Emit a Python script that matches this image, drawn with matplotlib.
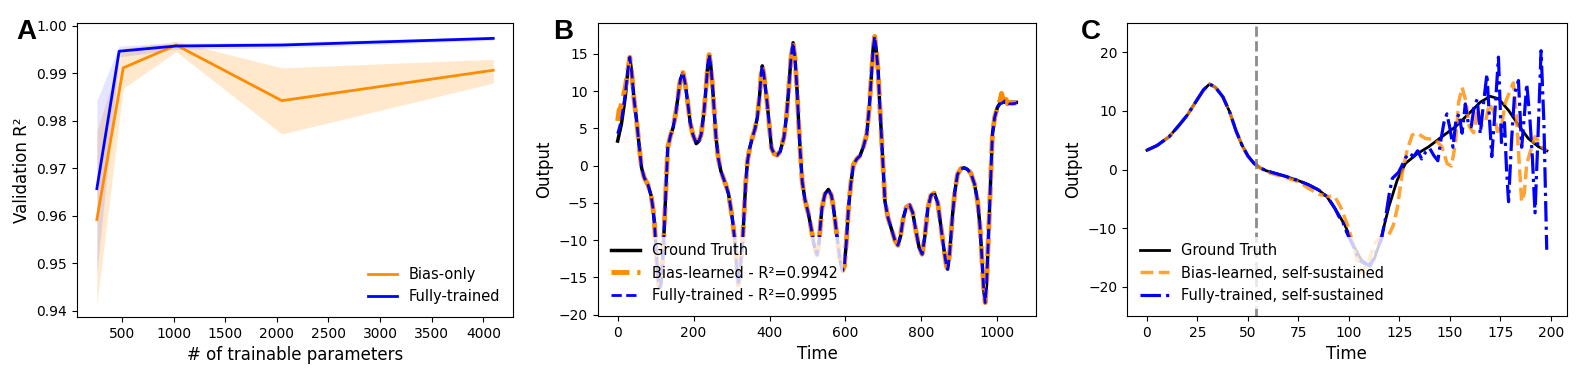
import matplotlib
matplotlib.use("Agg")
import matplotlib.pyplot as plt
import numpy as np

# ---- panel A : validation R2 vs number of trainable parameters
bias_params = [256, 512, 1024, 2048, 4096]
bias_r2 = [0.9592, 0.9911, 0.9959, 0.9842, 0.9906]
bias_lo = [0.9415, 0.9868, 0.9945, 0.9772, 0.9879]
bias_hi = [0.9778, 0.9952, 0.9967, 0.9911, 0.9929]

full_params = [256, 472, 1024, 2048, 4096]
full_r2 = [0.9657, 0.9946, 0.9957, 0.9959, 0.9973]
full_lo = [0.9480, 0.9934, 0.9950, 0.9953, 0.9969]
full_hi = [0.9842, 0.9957, 0.9963, 0.9965, 0.9977]

# ---- panel B : teacher-forced output
gt_t = [0, 10, 20, 27, 32, 37, 43, 50, 57, 63, 70, 80, 88, 93, 97, 100, 104, 108, 111, 114,
        118, 121, 125, 129, 132, 139, 146, 153, 159, 165, 172, 178, 185, 191, 198, 207, 214, 220,
        227, 233, 237, 241, 245, 250, 255, 259, 265, 272, 278, 285, 292, 298, 303, 309, 313, 318,
        322, 325, 329, 333, 337, 342, 348, 355, 362, 368, 374, 378, 381, 385, 389, 394, 400, 405,
        412, 420, 428, 438, 445, 451, 456, 462, 467, 472, 477, 481, 486, 493, 503, 510, 517, 525,
        530, 534, 538, 546, 555, 563, 568, 573, 580, 586, 592, 597, 602, 608, 614, 621, 630, 638,
        647, 656, 663, 669, 673, 677, 681, 686, 690, 695, 700, 704, 712, 721, 730, 738, 745, 752,
        760, 769, 777, 786, 794, 802, 809, 817, 825, 834, 843, 852, 860, 866, 869, 874, 882, 888,
        895, 904, 913, 921, 930, 940, 948, 954, 959, 964, 968, 972, 978, 983, 987, 993, 1000, 1007,
        1013, 1020, 1031, 1040, 1050]
gt_y = [3.3, 5.6, 9.2, 12.8, 14.55, 12.5, 9.0, 6.0, 2.5, -0.3, -1.6, -2.6, -4.0, -5.7, -7.8, -10.3,
        -13.5, -15.8, -16.4, -15.8, -13.2, -10.3, -5.5, -1.0, 2.4, 4.0, 5.1, 7.0, 9.2, 11.5, 12.5,
        11.0, 8.3, 5.8, 4.2, 2.95, 3.3, 4.2, 7.0, 10.6, 13.3, 14.9, 13.6, 10.6, 6.8, 3.8, 1.0, -0.75,
        -1.6, -2.6, -3.8, -5.7, -7.5, -10.3, -13.2, -16.0, -14.5, -12.5, -10.3, -6.5, -2.5, 0.6, 2.4,
        3.8, 5.0, 6.5, 9.5, 12.3, 13.4, 12.3, 10.5, 8.3, 5.0, 2.4, 1.6, 1.4, 1.9, 3.8, 6.8, 10.6,
        14.2, 16.5, 14.5, 10.6, 5.5, 1.8, -2.1, -4.5, -6.6, -8.5, -10.6, -12.0, -10.5, -8.0, -5.7,
        -3.8, -3.2, -4.0, -5.5, -7.5, -10.5, -12.8, -14.1, -13.5, -10.5, -5.7, -2.5, 0.15, 0.9, 1.3,
        2.5, 4.2, 8.0, 12.8, 15.8, 17.35, 15.5, 12.8, 8.5, 3.8, -0.8, -4.8, -7.0, -8.5, -10.0, -10.7,
        -9.5, -7.1, -5.6, -5.3, -6.3, -8.9, -11.0, -11.9, -9.5, -5.7, -4.0, -3.7, -5.0, -8.5, -11.5,
        -13.5, -13.9, -12.0, -6.6, -3.5, -1.2, -0.4, -0.3, -0.5, -1.0, -2.5, -4.8, -8.0, -12.1,
        -16.5, -18.4, -15.5, -7.5, -0.5, 4.2, 6.5, 7.8, 8.4, 8.6, 8.5, 8.5, 8.5, 8.5]

# predictions: start and end differ from ground truth, middle is on top of it
bias_head_t = [0, 4, 8, 12, 16, 20]
bias_head_y = [6.0, 7.5, 7.8, 8.8, 9.6, 10.5]
bias_tail_t = [1007, 1011, 1015, 1019, 1023, 1027, 1032, 1040, 1050]
bias_tail_y = [8.8, 9.7, 9.0, 8.2, 8.9, 8.3, 8.5, 8.4, 8.4]
full_head_t = [0, 5, 10, 15, 20]
full_head_y = [4.3, 5.2, 6.2, 7.8, 9.6]
full_tail_t = [1007, 1013, 1020, 1026, 1032, 1040, 1050]
full_tail_y = [8.3, 8.4, 8.7, 8.6, 8.3, 8.3, 8.4]

# ---- panel C : self-sustained output
c_gt_t = [0, 5, 11, 16, 20, 25, 28, 31, 34, 37.6, 41, 44, 47, 50, 53, 56, 59, 64, 69, 75, 80, 85,
          89, 93.5, 98, 102.5, 106, 109.6, 112.4, 115.7, 119.8, 123.9, 128, 133.8, 139.5, 146,
          152.7, 159.2, 165, 169.9, 174, 179, 183.9, 188.8, 193.8, 198]
c_gt_y = [3.3, 4.1, 5.6, 7.6, 9.3, 12.0, 13.6, 14.6, 14.0, 12.4, 9.8, 6.7, 4.2, 2.3, 1.05, 0.3,
          -0.2, -0.7, -1.2, -1.9, -2.6, -3.5, -4.6, -6.9, -9.5, -13.1, -15.4, -16.3, -15.4, -12.0,
          -6.3, -1.8, 1.05, 2.7, 3.9, 5.6, 7.3, 9.5, 11.5, 12.5, 12.1, 10.1, 7.6, 5.3, 3.9, 3.2]

c_bias_t = [56, 60, 65, 70, 75, 80, 85, 90, 93, 96, 99, 102, 104, 106, 108, 110, 113, 116, 119.8,
            122, 124, 126.4, 128.8, 131.3, 133.8, 137.9, 142.8, 146, 148.6, 150.7, 152.7, 154.3,
            156, 157.8, 159.6, 161.7, 163.6, 165.5, 167.5, 169.5, 171.5, 173.5, 175.5, 177.5,
            179.8, 181.4, 182.8, 184, 185.5, 186.8, 188, 190, 192.1, 194, 195.4, 197.9]
c_bias_y = [0.3, -0.5, -1.0, -1.5, -2.1, -3.2, -4.2, -4.6, -4.6, -6.5, -9.2, -12.5, -15.5, -17.6,
            -16.8, -15.4, -12.5, -11.5, -11.1, -9.5, -6.5, -0.5, 3.3, 5.9, 6.2, 5.3, 5.1, 3.9, 1.0,
            0.6, 4.4, 11.5, 14.0, 11.8, 7.3, 6.3, 10.0, 7.5, 8.0, 11.2, 10.0, 6.5, 7.5, 11.5, 13.5,
            14.8, 9.5, 2.7, -5.5, -4.0, 1.0, 3.3, 5.6, 4.8, 3.9, 3.2]

c_full_t = [90, 93, 95, 97, 99, 102, 105, 108, 110.5, 113, 116, 118, 120, 121.5, 123, 124.5, 126,
            128, 130, 132, 134, 136, 138, 140, 142, 144, 145.5, 147, 148.5, 150, 151.5, 153, 154.5,
            156, 157.6, 159, 160.5, 162, 163.5, 165, 166.5, 168.3, 169.5, 170.7, 172.3, 174, 175.5,
            177, 178, 179, 180.5, 182, 183.9, 185.5, 187, 188, 189.5, 190.8, 192.1, 193.5, 195.1,
            196.5, 197.9]
c_full_y = [-5.0, -6.6, -8.0, -9.0, -10.8, -13.0, -15.5, -16.1, -16.5, -14.5, -12.0, -8.5, -4.0,
            -1.5, -1.0, -0.5, 0.5, 2.0, 2.8, 2.2, 3.2, 1.8, 3.0, 3.6, 2.4, 1.5, 5.0, 8.0, 9.5, 7.0,
            3.8, 8.5, 9.5, 6.2, 11.2, 8.0, 7.3, 10.8, 12.0, 6.1, 11.0, 16.3, 9.0, 2.2, 10.0, 19.2,
            4.6, 8.0, 0.0, -5.5, 5.0, 13.0, 15.2, 3.8, 10.0, 14.6, 9.0, 2.0, -7.4, 5.0, 20.3, 8.0,
            -13.7]
switch_time = 54

ORANGE = "darkorange"
BLUE = "blue"
TICK_FS = 10
LABEL_FS = 12
LEGEND_FS = 10.5

fig = plt.figure(figsize=(15.85, 3.73), dpi=100)
axA = fig.add_axes([0.0486, 0.150, 0.2751, 0.788])
axB = fig.add_axes([0.3771, 0.153, 0.2767, 0.785])
axC = fig.add_axes([0.7110, 0.153, 0.2776, 0.785])

for ax in (axA, axB, axC):
    ax.tick_params(labelsize=TICK_FS)

# A
axA.fill_between(bias_params, bias_lo, bias_hi, color=ORANGE, alpha=0.2, lw=0)
axA.fill_between(full_params, full_lo, full_hi, color=BLUE, alpha=0.1, lw=0)
axA.plot(bias_params, bias_r2, color=ORANGE, lw=2, label="Bias-only")
axA.plot(full_params, full_r2, color=BLUE, lw=2, label="Fully-trained")
axA.set_xlabel("# of trainable parameters", fontsize=LABEL_FS)
axA.set_ylabel("Validation R²", fontsize=LABEL_FS)
axA.set_yticks([0.94, 0.95, 0.96, 0.97, 0.98, 0.99, 1.00])
axA.legend(loc="lower right", fontsize=LEGEND_FS, frameon=False)

# B
gt_t_arr = np.array(gt_t)
gt_y_arr = np.array(gt_y)
mid = (gt_t_arr >= 27) & (gt_t_arr <= 1000)
bias_t = np.concatenate([bias_head_t, gt_t_arr[mid], bias_tail_t])
bias_y = np.concatenate([bias_head_y, gt_y_arr[mid], bias_tail_y])
full_t = np.concatenate([full_head_t, gt_t_arr[mid], full_tail_t])
full_y = np.concatenate([full_head_y, gt_y_arr[mid], full_tail_y])

axB.plot(gt_t, gt_y, color="black", lw=2.5, label="Ground Truth")
axB.plot(bias_t, bias_y, color=ORANGE, lw=3.5, ls="--", label="Bias-learned - R²=0.9942")
axB.plot(full_t, full_y, color=BLUE, lw=2, ls="--", label="Fully-trained - R²=0.9995")
axB.set_xlabel("Time", fontsize=LABEL_FS)
axB.set_ylabel("Output", fontsize=LABEL_FS)
axB.set_yticks([-20, -15, -10, -5, 0, 5, 10, 15])
axB.legend(loc="lower left", fontsize=LEGEND_FS, edgecolor="none", framealpha=0.8)

# C
c_gt_t_arr = np.array(c_gt_t)
c_gt_y_arr = np.array(c_gt_y)
pre_b = c_gt_t_arr <= 53
pre_f = c_gt_t_arr <= 89
cb_t = np.concatenate([c_gt_t_arr[pre_b], c_bias_t])
cb_y = np.concatenate([c_gt_y_arr[pre_b], c_bias_y])
cf_t = np.concatenate([c_gt_t_arr[pre_f], c_full_t])
cf_y = np.concatenate([c_gt_y_arr[pre_f], c_full_y])

axC.plot(c_gt_t, c_gt_y, color="black", lw=2, label="Ground Truth")
axC.plot(cb_t, cb_y, color=ORANGE, lw=2.5, ls="--", alpha=0.8, label="Bias-learned, self-sustained")
axC.plot(cf_t, cf_y, color=BLUE, lw=2.3, ls="-.", label="Fully-trained, self-sustained")
axC.axvline(switch_time, color="gray", ls="--", lw=2, alpha=0.9)
axC.set_ylim(-25, 25)
axC.set_xticks([0, 25, 50, 75, 100, 125, 150, 175, 200])
axC.set_xlabel("Time", fontsize=LABEL_FS)
axC.set_ylabel("Output", fontsize=LABEL_FS)
axC.legend(loc="lower left", fontsize=LEGEND_FS, edgecolor="none", framealpha=0.8)

# panel letters
for x, letter in [(0.0105, "A"), (0.349, "B"), (0.682, "C")]:
    fig.text(x, 0.895, letter, fontsize=20, fontweight="bold", family="Liberation Sans")

fig.savefig("out.png", dpi=100)
